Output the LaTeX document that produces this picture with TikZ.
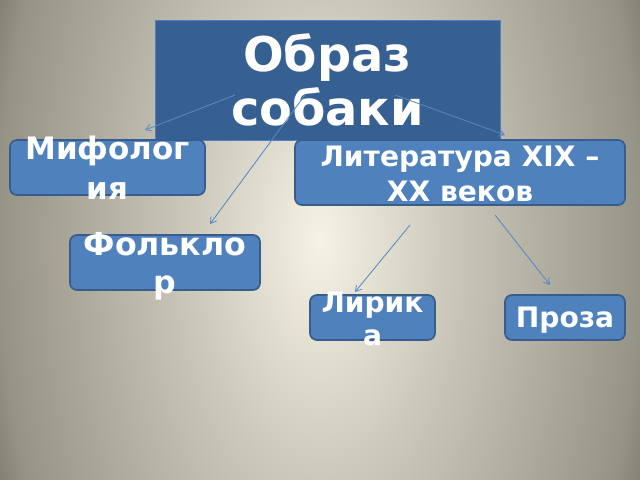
\documentclass[tikz,border=0pt]{standalone}
\usepackage{fontspec}
\setmainfont{DejaVu Sans}
\usetikzlibrary{arrows.meta}
\definecolor{bglight}{RGB}{246,243,229}
\definecolor{bgmid}{RGB}{204,201,188}
\definecolor{bggrey}{RGB}{150,148,135}
\definecolor{bgdark}{RGB}{122,119,106}
\definecolor{titleblue}{RGB}{54,96,146}
\definecolor{boxblue}{RGB}{79,129,189}
\definecolor{boxline}{RGB}{56,93,138}
\definecolor{arrowblue}{RGB}{88,136,196}
\pgfdeclareradialshading{backdrop}{\pgfpoint{0bp}{0bp}}{color(0bp)=(bglight); color(10bp)=(bgmid); color(25bp)=(bggrey); color(28bp)=(bgdark); color(50bp)=(bgdark)}
\begin{document}
\begin{tikzpicture}[
				x=0.025cm, y=-0.025cm,
				box/.style={draw=boxline, fill=boxblue, line width=1.2pt, rounded corners=5pt, inner sep=0pt},
				boxtext/.style={text=white, align=center, inner sep=0pt, font=\bfseries\fontsize{20}{25}\selectfont},
				link/.style={draw=arrowblue, line width=0.6pt, -{Straight Barb[length=4pt,width=5pt]}}
				]
			\useasboundingbox (0,0) rectangle (640,480);
			\begin{scope}
				\clip (0,0) rectangle (640,480);
				\shade[shading=backdrop] (0,-360) rectangle (640,840);
			\end{scope}
			% boxes
			\node [draw=boxblue, fill=titleblue, line width=0.6pt, inner sep=0pt, minimum width=8.625cm, minimum height=3cm] (title) at (327.5,80) {};
			\node [box, minimum width=4.875cm, minimum height=1.375cm] (myth) at (107.5,167.5) {};
			\node [box, minimum width=8.25cm, minimum height=1.625cm] (lit) at (460,172.5) {};
			\node [box, minimum width=4.75cm, minimum height=1.375cm] (folk) at (165,262.5) {};
			\node [box, minimum width=3.125cm, minimum height=1.125cm] (lyric) at (372.5,317.5) {};
			\node [box, minimum width=3cm, minimum height=1.125cm] (prose) at (565,317.5) {};
			% texts
			\node [boxtext, font=\bfseries\fontsize{34}{38.5}\selectfont] (titletext) at (title.center) {Образ\\собаки};
			\node [boxtext, font=\bfseries\fontsize{22}{28.5}\selectfont] (mythtext) at ([yshift=0pt]myth.center) {Мифолог\\ия};
			\node [boxtext, font=\bfseries\fontsize{20}{25}\selectfont] (littext) at ([yshift=-1pt]lit.center) {Литература XIX –\\XX веков};
			\node [boxtext, font=\bfseries\fontsize{22.5}{27}\selectfont] (folktext) at ([yshift=-3pt]folk.center) {Фолькло\\р};
			\node [boxtext, font=\bfseries\fontsize{20}{24}\selectfont] (lyrictext) at ([yshift=-1pt]lyric.center) {Лирик\\а};
			\node [boxtext] (prosetext) at ([yshift=-2pt]prose.center) {Проза};
			% arrows
			\coordinate (mythfrom) at (235,95);
			\coordinate (mythto) at (145,130);
			\coordinate (folkfrom) at (305,95);
			\coordinate (folkto) at (210,224);
			\coordinate (litfrom) at (395,95);
			\coordinate (litto) at (505,135);
			\coordinate (lyricfrom) at (410,225);
			\coordinate (lyricto) at (355,292);
			\coordinate (prosefrom) at (495,215);
			\coordinate (proseto) at (550,285);
			\draw [link] (mythfrom) -- (mythto);
			\draw [link] (folkfrom) -- (folkto);
			\draw [link] (litfrom) -- (litto);
			\draw [link] (lyricfrom) -- (lyricto);
			\draw [link] (prosefrom) -- (proseto);
\end{tikzpicture}
\end{document}
